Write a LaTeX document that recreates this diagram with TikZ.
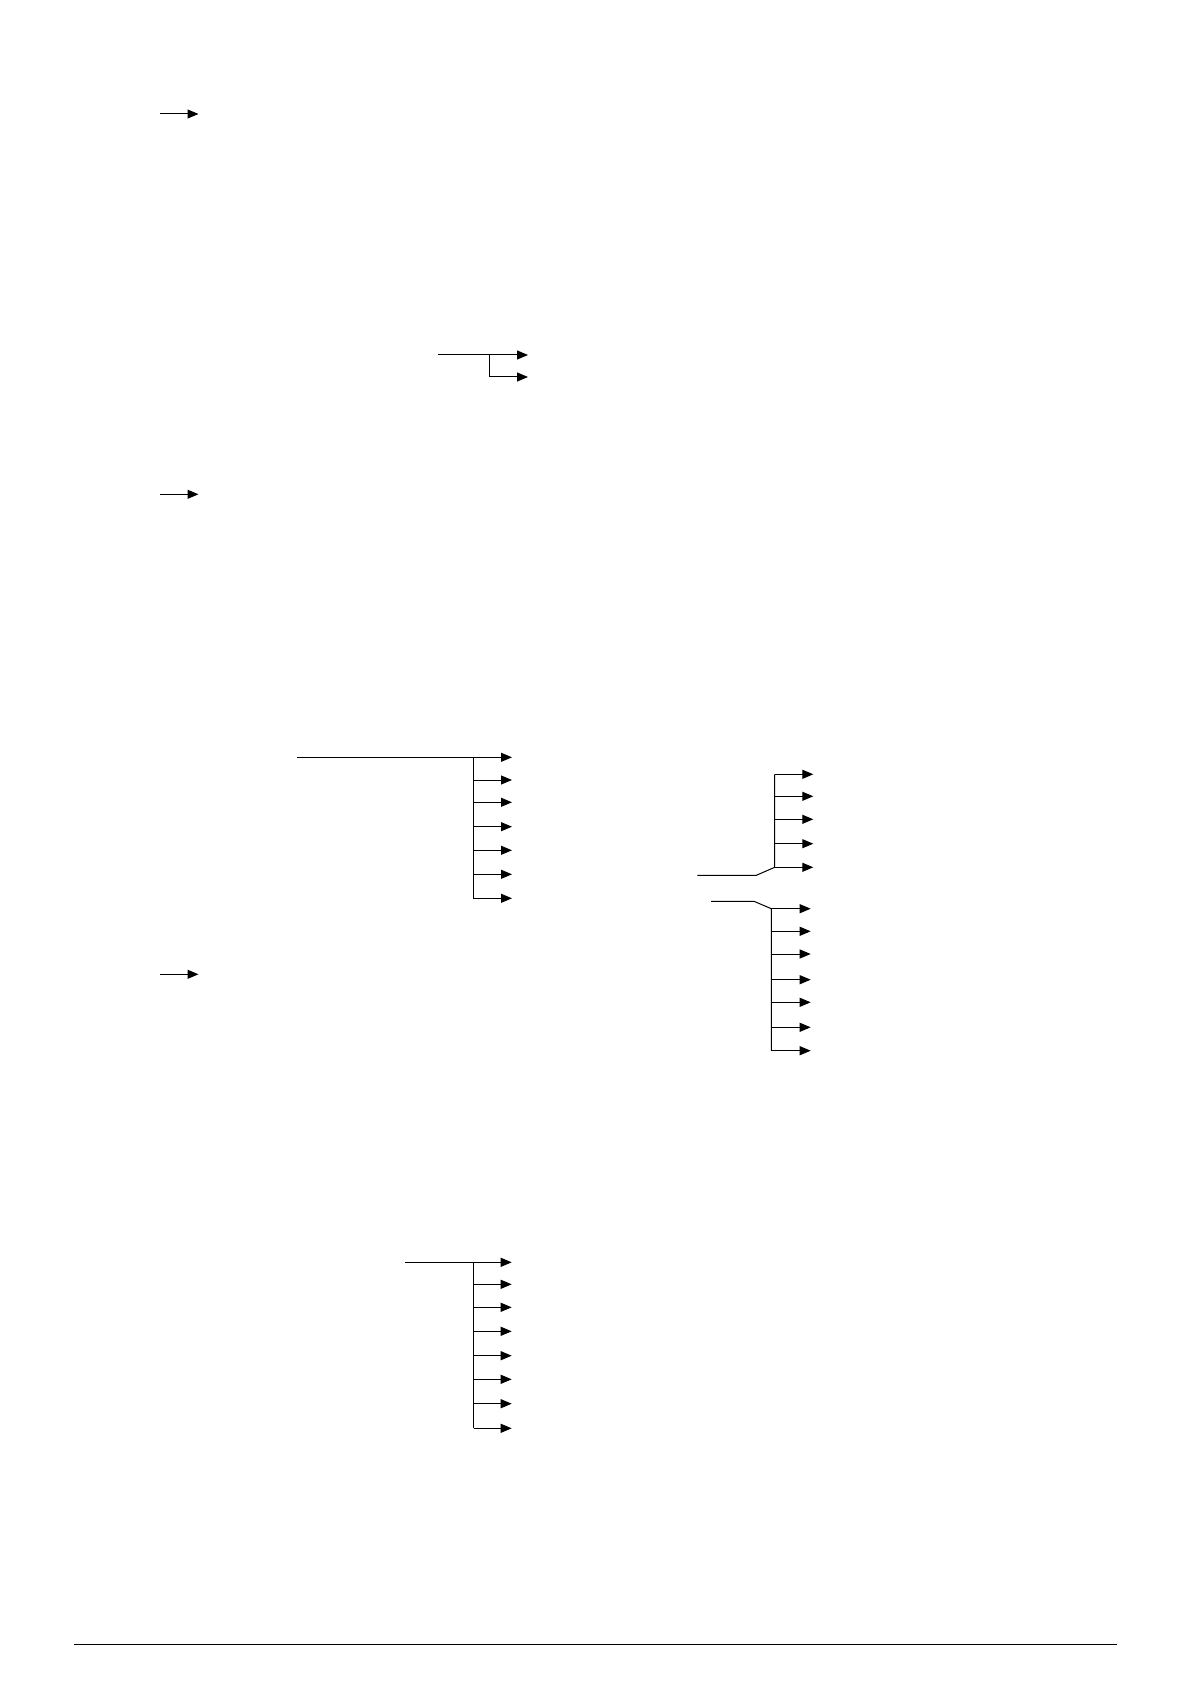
\documentclass[tikz,border=0pt]{standalone}
\usepackage{tikz}
\usetikzlibrary{arrows.meta}

\tikzset{
  branch/.style={->,line width=0.5pt},
  trunk/.style={line width=0.5pt}
}

\begin{document}
\begin{tikzpicture}[x=0.5pt,y=-0.5pt,>={Triangle[length=5.5pt,width=4.5pt]}]
  \useasboundingbox (0,0) rectangle (1191,1684);
  % single arrows
  \foreach \y [count=\i] in {114,494.3,974.3} {
    \coordinate (s\i) at (160,\y);
    \coordinate (st\i) at (198.5,\y);
    \draw[branch] (s\i) -- (st\i);
  }
  % two-way fork
  \coordinate (ainA) at (438,355);
  \coordinate (jA) at (489,355);
  \coordinate (jAend) at (489,377);
  \draw[trunk] (ainA) -- (jA) -- (jAend);
  \foreach \y [count=\i] in {355,377} {
    \coordinate (a\i) at (489,\y);
    \coordinate (at\i) at (528,\y);
    \draw[branch] (a\i) -- (at\i);
  }
  % seven-way fork
  \coordinate (inB) at (297,757.3);
  \coordinate (jB) at (473,757.3);
  \coordinate (jBend) at (473,898.3);
  \draw[trunk] (inB) -- (jB) -- (jBend);
  \foreach \y [count=\i] in {757.3,780,802.3,826.7,850.3,874.3,898.3} {
    \coordinate (b\i) at (473,\y);
    \coordinate (bt\i) at (512,\y);
    \draw[branch] (b\i) -- (bt\i);
  }
  % right side, upper fork
  \coordinate (inC) at (697.3,875.3);
  \coordinate (kC) at (756.3,875.3);
  \coordinate (jC) at (774.7,867.3);
  \coordinate (jCtop) at (774.7,774.3);
  \draw[trunk] (inC) -- (kC) -- (jC) -- (jCtop);
  \foreach \y [count=\i] in {774.3,796.3,819.3,843.7,867.3} {
    \coordinate (c\i) at (774.7,\y);
    \coordinate (ct\i) at (813.3,\y);
    \draw[branch] (c\i) -- (ct\i);
  }
  % right side, lower fork
  \coordinate (inE) at (711,901.3);
  \coordinate (kE) at (754,901.3);
  \coordinate (jE) at (771.3,908.7);
  \coordinate (jEend) at (771.3,1050.7);
  \draw[trunk] (inE) -- (kE) -- (jE) -- (jEend);
  \foreach \y [count=\i] in {908.7,931.3,954,979.7,1002.3,1027.3,1050.7} {
    \coordinate (e\i) at (771.3,\y);
    \coordinate (et\i) at (810.7,\y);
    \draw[branch] (e\i) -- (et\i);
  }
  % eight-way fork
  \coordinate (inD) at (405,1262.3);
  \coordinate (jD) at (473.7,1262.3);
  \coordinate (jDend) at (473.7,1428.3);
  \draw[trunk] (inD) -- (jD) -- (jDend);
  \foreach \y [count=\i] in {1262.3,1284.3,1307.3,1331.3,1355.7,1379.3,1403.7,1428.3} {
    \coordinate (d\i) at (473.7,\y);
    \coordinate (dt\i) at (511.7,\y);
    \draw[branch] (d\i) -- (dt\i);
  }
  % footer rule
  \coordinate (ruleL) at (73.7,1644.3);
  \coordinate (ruleR) at (1117,1644.3);
  \draw[line width=0.6pt] (ruleL) -- (ruleR);
\end{tikzpicture}
\end{document}
